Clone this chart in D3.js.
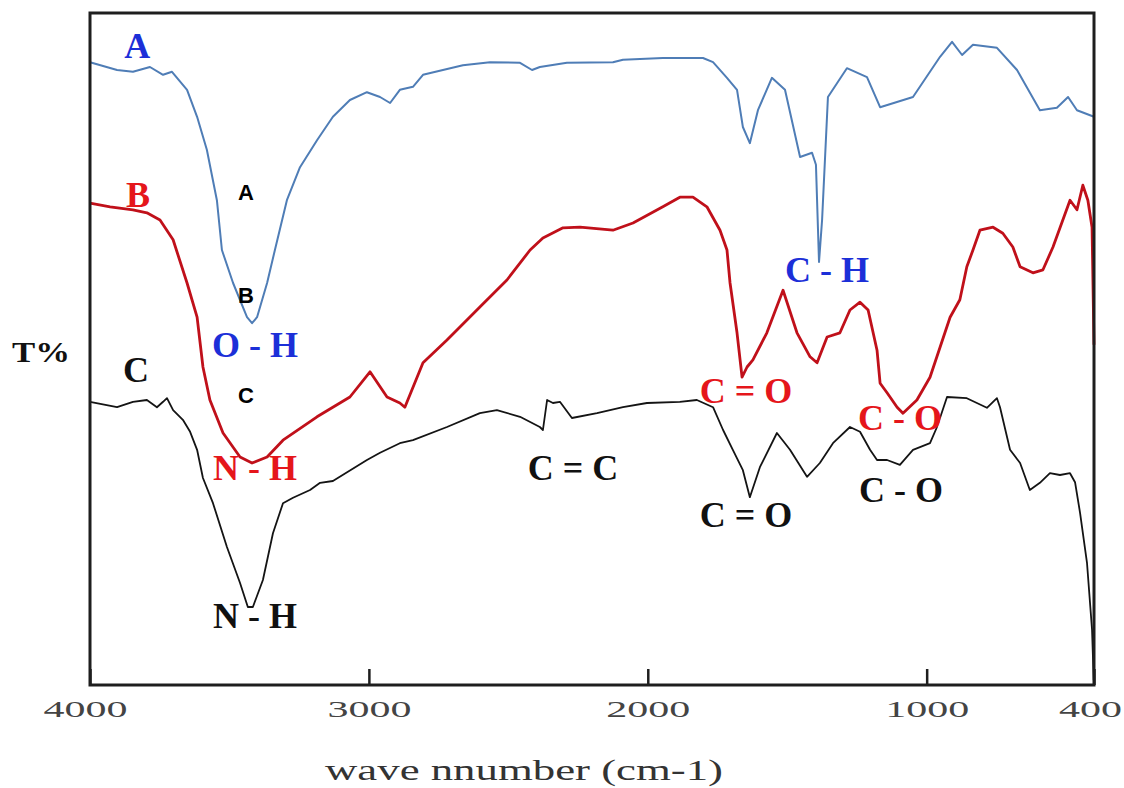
<!DOCTYPE html>
<html><head><meta charset="utf-8">
<script src="https://cdn.jsdelivr.net/npm/d3@7"></script>
<style>body{margin:0;background:#fff}</style>
</head><body>
<svg id="c" width="1124" height="788"></svg>
<script>
// Spectrum A (blue)
const waveA=[4000,3903,3846,3785,3738,3706,3652,3616,3581,3545,3527,3487,3437,3419,3401,3365,3337,3294,3247,3186,3129,3068,3007,2960,2924,2889,2842,2806,2663,2566,2458,2415,2387,2290,2125,2089,1946,1802,1766,1716,1680,1659,1634,1605,1555,1508,1454,1411,1397,1386,1375,1354,1286,1214,1167,1049,952,909,873,834,748,676,594,533,493,461,400];
const tA=[103.8,102.5,102.2,103,101.7,102.2,99.2,94.7,89.2,80.8,72.5,67,61.3,60.3,61.3,67,72.5,80.8,86.3,90.8,94.7,97.5,98.8,98,97,99.2,99.7,101.7,103.3,103.8,103.7,102.5,103,103.7,103.8,104.2,104.5,104.5,103.8,101.2,99.2,93,90.3,95.8,101.2,99.2,88,88.7,86.7,70.5,77.5,98,102.8,101.3,96.3,98,104.7,107.2,105,106.7,106.2,102.5,95.8,96.2,98,95.8,94.7];
// Spectrum B (red)
const waveB=[4000,3928,3846,3796,3749,3702,3652,3616,3595,3570,3523,3462,3419,3365,3308,3186,3068,2996,2935,2889,2871,2806,2720,2602,2505,2422,2376,2304,2243,2125,2053,1946,1885,1838,1788,1741,1716,1705,1680,1662,1644,1623,1573,1515,1465,1418,1393,1357,1311,1275,1239,1210,1178,1167,1142,1106,1085,1035,988,952,916,881,856,834,809,762,727,691,665,619,583,547,486,461,440,422,407,400];
const tB=[80.3,79.7,79.2,78.7,77.5,74.2,67,61.3,53,47.5,42,38,37,38,40.8,44.7,48,52.2,48,47,46.3,53.7,57.5,63,67.5,72.5,74.5,76.2,76.3,75.8,77,79.7,81.3,81.3,79.7,75.8,72.5,67,58.7,51.3,53,54.2,58.7,65.8,58.7,54.7,53.7,58,58.7,62.5,63.8,62.5,55.8,50.3,48.7,46.3,45.3,47.5,51.3,56.3,61.3,64.2,69.7,72.5,75.8,76.3,75.3,73,69.7,68.7,69.2,73,80.8,79.2,83.3,80.8,76.3,56.7];
// Spectrum C (black)
const waveC=[4000,3903,3846,3796,3760,3738,3724,3702,3667,3641,3616,3595,3559,3509,3462,3434,3416,3380,3344,3308,3272,3211,3175,3129,3007,2960,2889,2842,2720,2602,2541,2458,2387,2376,2361,2340,2315,2272,2182,2089,2003,1885,1824,1766,1730,1695,1659,1634,1598,1537,1490,1429,1383,1336,1275,1239,1203,1178,1142,1096,1049,988,963,927,856,784,748,737,701,665,630,594,558,522,486,468,450,425,407,401];
const tC=[47.2,46.3,47.2,47.5,46.3,47.2,47.8,45.8,44.2,42.2,39.2,34.5,30.3,23,17,13,13,17.5,25.3,30.3,31.2,32.5,33.7,34,37.5,38.7,40.3,40.8,43,45.3,45.8,44.7,43,42.5,47.5,47,47.2,44.5,45.3,46.3,47,47.2,47.5,46.3,42.5,39.2,35.8,31.3,36.3,42,39.2,34.7,37,40.3,43,42.2,39.2,37.5,37.5,36.7,39.2,40.3,43,48,47.8,46.2,47.8,46.3,39.2,37,32.5,33.7,35.3,35,35.3,33.8,28.7,20.3,9.2,0.8];

const tickValues=[4000,3000,2000,1000,400];
const tickLabels=["4000","3000","2000","1000","400"];
const xTitle="wave nnumber (cm-1)";
const yTitle="T%";

// Annotations (anchored in data coordinates)
const annText=["A","B","C","A","B","C","O - H","N - H","N - H","C = C","C = O","C = O","C - H","C - O","C - O"];
const annWave=[3831,3828,3835,3441,3441,3441,3408,3408,3408,2268,1648,1648,1357,1096,1092];
const annT=[104.5,79.7,50.5,80.8,63.7,47,54.7,34.2,9.5,34.2,47,26.3,67.2,42.5,30.5];
const annGroup=["A","B","C","s","s","s","A","B","C","C","B","C","A","B","C"];

const L=90,R=1094,T=13,B=685;
const svg=d3.select("#c");
const x=d3.scaleLinear().domain([4000,400]).range([L,R]);
const y=d3.scaleLinear().domain([0,112]).range([B,T]);

const series=[
  {w:waveA,t:tA,color:"#4f7db6",width:2},
  {w:waveB,t:tB,color:"#c0101a",width:2.8},
  {w:waveC,t:tC,color:"#141414",width:1.8}
];
const line=d3.line().x(d=>x(d[0])).y(d=>y(d[1]));
series.forEach(s=>{
  svg.append("path").datum(d3.zip(s.w,s.t)).attr("d",line)
    .attr("fill","none").attr("stroke",s.color).attr("stroke-width",s.width)
    .attr("stroke-linejoin","round");
});

// frame
svg.append("rect").attr("x",L).attr("y",T).attr("width",R-L).attr("height",B-T)
  .attr("fill","none").attr("stroke","#1e1e1e").attr("stroke-width",3);

// axis
const ax=svg.append("g").attr("transform",`translate(0,${B})`)
  .call(d3.axisBottom(x).tickValues(tickValues).tickSize(-16).tickFormat((d,i)=>tickLabels[i]));
ax.select(".domain").remove();
ax.selectAll(".tick line").attr("stroke","#1e1e1e").attr("stroke-width",2.5);
ax.selectAll(".tick text").attr("y",32).attr("dy",0)
  .attr("font-family","Liberation Serif, serif").attr("font-size",23).attr("fill","#444")
  .attr("textLength",(d,i)=>tickLabels[i].length*21).attr("lengthAdjust","spacingAndGlyphs");
ax.selectAll(".tick").filter(d=>d===4000).select("text").attr("dx",-5);
ax.selectAll(".tick").filter(d=>d===400).select("text").attr("dx",-4);

svg.append("text").attr("x",524).attr("y",780).attr("text-anchor","middle")
  .attr("font-family","Liberation Serif, serif").attr("font-size",30).attr("fill","#333")
  .attr("textLength",398).attr("lengthAdjust","spacingAndGlyphs").text(xTitle);

svg.append("text").attr("x",12).attr("y",362)
  .attr("font-family","Liberation Serif, serif").attr("font-size",30).attr("font-weight","bold").attr("fill","#111")
  .attr("textLength",58).attr("lengthAdjust","spacingAndGlyphs").text(yTitle);

// annotations
const groupColor={A:"#1c2fd8",B:"#e5161b",C:"#111111",s:"#000000"};
annText.forEach((txt,i)=>{
  const g=annGroup[i];
  svg.append("text").attr("x",x(annWave[i])).attr("y",y(annT[i]))
    .attr("text-anchor","middle")
    .attr("font-family",g==="s"?"Liberation Sans, Arial, sans-serif":"Liberation Serif, Times New Roman, serif")
    .attr("font-size",g==="s"?22:36).attr("font-weight","bold")
    .attr("fill",groupColor[g]).text(txt);
});
</script>
</body></html>
